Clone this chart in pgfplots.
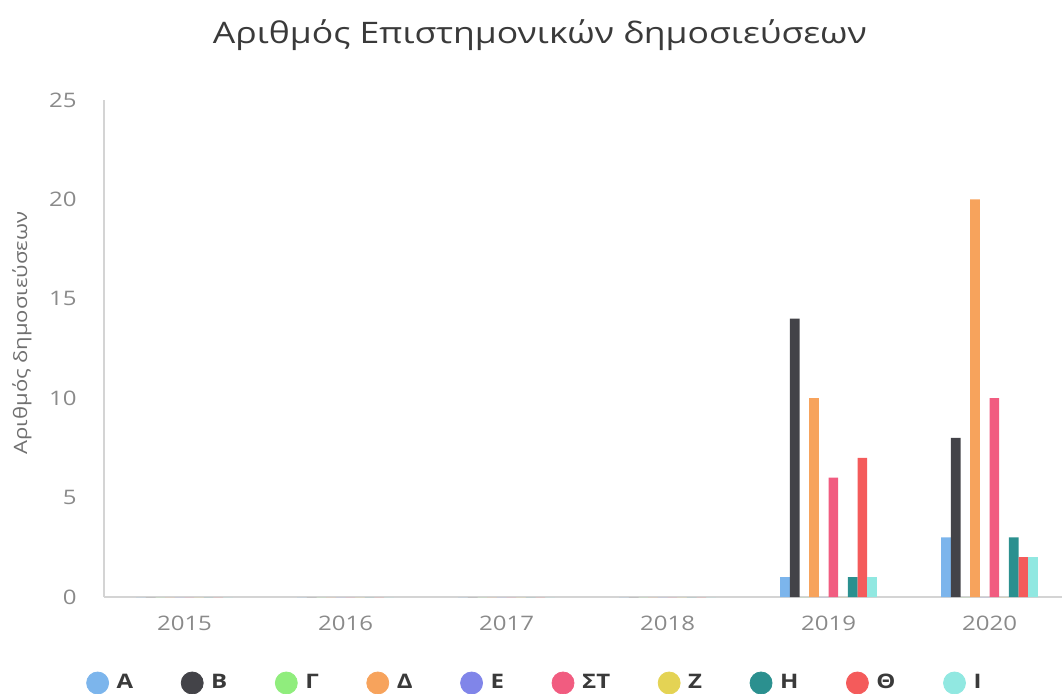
\documentclass[border=0pt]{standalone}
\usepackage{fontspec}
\setmainfont{Open Sans}[FakeStretch=1.2]
\usepackage{pgfplots}
\pgfplotsset{compat=1.18}
\definecolor{c1}{HTML}{7CB5EC}
\definecolor{c2}{HTML}{434348}
\definecolor{c3}{HTML}{90ED7D}
\definecolor{c4}{HTML}{F7A35C}
\definecolor{c5}{HTML}{8085E9}
\definecolor{c6}{HTML}{F15C80}
\definecolor{c7}{HTML}{E4D354}
\definecolor{c8}{HTML}{2B908F}
\definecolor{c9}{HTML}{F45B5B}
\definecolor{c10}{HTML}{91E8E1}
\definecolor{axisgray}{HTML}{D4D4D4}
\definecolor{ticktext}{HTML}{8A8A8A}
\definecolor{labeltext}{HTML}{707070}
\definecolor{titletext}{HTML}{3A3A3A}
\begin{document}
\begin{tikzpicture}[x=1pt,y=1pt]
\path[use as bounding box] (0,0) rectangle (531,346.5);
\begin{axis}[
  at={(52pt,48pt)}, anchor=south west,
  scale only axis, width=479pt, height=248.5pt,
  xmin=-0.5, xmax=5.45, ymin=0, ymax=25,
  axis x line=bottom, axis y line=left,
  axis line style={draw=axisgray, line width=0.7pt, -},
  xtick={0,1,2,3,4,5}, xticklabels={2015,2016,2017,2018,2019,2020},
  ytick={0,5,10,15,20,25},
  major tick length=0pt,
  /pgf/number format/assume math mode=true,
  tick label style={font=\fontsize{10}{12}\selectfont, text=ticktext},
  yticklabel style={anchor=east, inner sep=0pt, xshift=-13.5pt},
  xticklabel style={anchor=center, inner sep=0pt, yshift=-13pt},
  title={Αριθμός Επιστημονικών δημοσιεύσεων},
  title style={at={(axis description cs:0.455,1.089)}, anchor=base, inner sep=0pt, yshift=0pt, font=\fontsize{14.8}{18}\selectfont, text=titletext},
  ylabel={Αριθμός δημοσιεύσεων},
  ylabel style={at={(axis description cs:-0.0856,0.531)}, anchor=center, font=\fontsize{9.2}{11}\selectfont, text=labeltext},
  legend columns=10,
  legend style={at={(axis description cs:0.451,-0.173)}, anchor=center, draw=none, fill=none,
    font=\bfseries\fontsize{10}{12}\selectfont, text=titletext,
    /tikz/every odd column/.append style={column sep=2pt},
    /tikz/every even column/.append style={column sep=22pt}},
]
\addplot[ybar, bar width=0.06, bar shift=-0.27, fill=c1, draw=none, forget plot] coordinates {(0,0) (1,0) (2,0) (3,0) (4,1) (5,3)};
\addplot[ybar, bar width=0.06, bar shift=-0.21, fill=c2, draw=none, forget plot] coordinates {(0,0) (1,0) (2,0) (3,0) (4,14) (5,8)};
\addplot[ybar, bar width=0.06, bar shift=-0.15, fill=c3, draw=none, forget plot] coordinates {(0,0) (1,0) (2,0) (3,0) (4,0) (5,0)};
\addplot[ybar, bar width=0.06, bar shift=-0.09, fill=c4, draw=none, forget plot] coordinates {(0,0) (1,0) (2,0) (3,0) (4,10) (5,20)};
\addplot[ybar, bar width=0.06, bar shift=-0.03, fill=c5, draw=none, forget plot] coordinates {(0,0) (1,0) (2,0) (3,0) (4,0) (5,0)};
\addplot[ybar, bar width=0.06, bar shift=0.03, fill=c6, draw=none, forget plot] coordinates {(0,0) (1,0) (2,0) (3,0) (4,6) (5,10)};
\addplot[ybar, bar width=0.06, bar shift=0.09, fill=c7, draw=none, forget plot] coordinates {(0,0) (1,0) (2,0) (3,0) (4,0) (5,0)};
\addplot[ybar, bar width=0.06, bar shift=0.15, fill=c8, draw=none, forget plot] coordinates {(0,0) (1,0) (2,0) (3,0) (4,1) (5,3)};
\addplot[ybar, bar width=0.06, bar shift=0.21, fill=c9, draw=none, forget plot] coordinates {(0,0) (1,0) (2,0) (3,0) (4,7) (5,2)};
\addplot[ybar, bar width=0.06, bar shift=0.27, fill=c10, draw=none, forget plot] coordinates {(0,0) (1,0) (2,0) (3,0) (4,1) (5,2)};
\addlegendimage{only marks, mark=*, mark size=5.5pt, color=c1, mark options={draw=c1, fill=c1}}
\addlegendentry{Α}
\addlegendimage{only marks, mark=*, mark size=5.5pt, color=c2, mark options={draw=c2, fill=c2}}
\addlegendentry{Β}
\addlegendimage{only marks, mark=*, mark size=5.5pt, color=c3, mark options={draw=c3, fill=c3}}
\addlegendentry{Γ}
\addlegendimage{only marks, mark=*, mark size=5.5pt, color=c4, mark options={draw=c4, fill=c4}}
\addlegendentry{Δ}
\addlegendimage{only marks, mark=*, mark size=5.5pt, color=c5, mark options={draw=c5, fill=c5}}
\addlegendentry{Ε}
\addlegendimage{only marks, mark=*, mark size=5.5pt, color=c6, mark options={draw=c6, fill=c6}}
\addlegendentry{ΣΤ}
\addlegendimage{only marks, mark=*, mark size=5.5pt, color=c7, mark options={draw=c7, fill=c7}}
\addlegendentry{Ζ}
\addlegendimage{only marks, mark=*, mark size=5.5pt, color=c8, mark options={draw=c8, fill=c8}}
\addlegendentry{Η}
\addlegendimage{only marks, mark=*, mark size=5.5pt, color=c9, mark options={draw=c9, fill=c9}}
\addlegendentry{Θ}
\addlegendimage{only marks, mark=*, mark size=5.5pt, color=c10, mark options={draw=c10, fill=c10}}
\addlegendentry{Ι}
\end{axis}
\end{tikzpicture}
\end{document}
